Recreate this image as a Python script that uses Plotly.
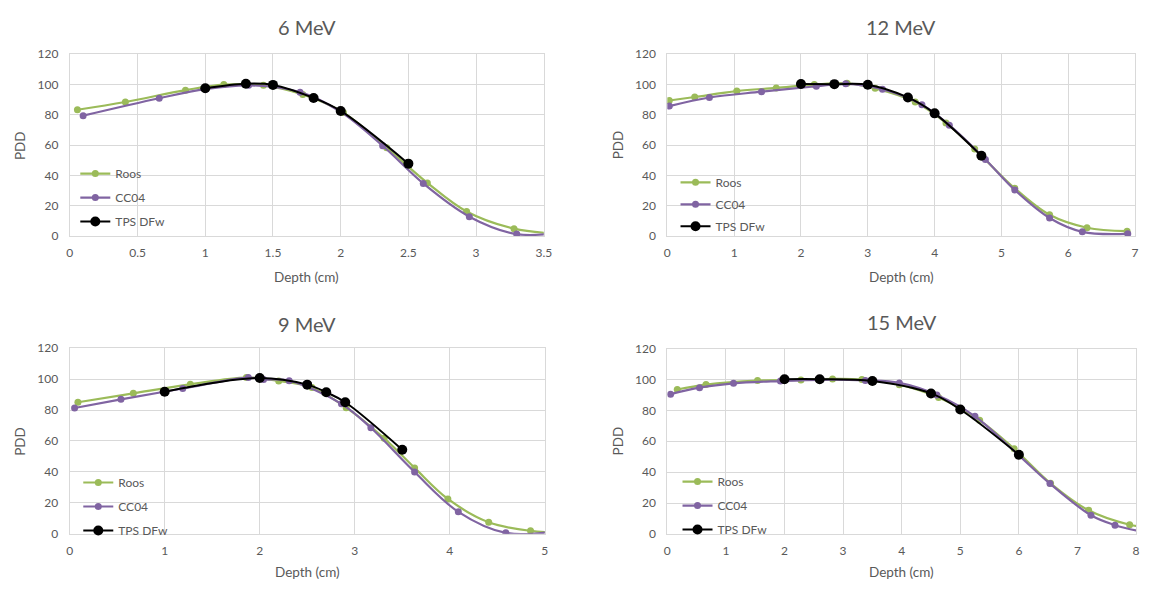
import plotly.graph_objects as go

W, H = 1154, 590

# ---------------- data ----------------
titles = ["6 MeV", "12 MeV", "9 MeV", "15 MeV"]
series_names = ["Roos", "CC04", "TPS DFw"]

roos6_x = [0.056, 0.41, 0.854, 1.137, 1.43, 1.72, 2.02, 2.34, 2.64, 2.93, 3.28, 3.62]
roos6_y = [83.4, 88.5, 96.3, 100.0, 99.5, 93.5, 81.5, 58.3, 35.1, 16.2, 4.9, 1.5]
cc04_6_x = [0.098, 0.66, 1.0, 1.32, 1.70, 2.0, 2.31, 2.61, 2.95, 3.30, 3.65]
cc04_6_y = [79.5, 91.0, 97.0, 99.5, 95.0, 82.0, 59.6, 34.7, 12.8, 1.3, 2.5]
tps6_x = [1.0, 1.3, 1.5, 1.8, 2.0, 2.5]
tps6_y = [97.6, 100.6, 99.8, 91.2, 82.6, 47.8]

roos12_x = [0.03, 0.41, 1.04, 1.63, 2.2, 2.69, 3.11, 3.71, 4.17, 4.6, 5.2, 5.72, 6.28, 6.88]
roos12_y = [89.5, 91.8, 95.7, 97.8, 100.0, 100.8, 97.5, 88.5, 74.7, 57.4, 31.5, 14.0, 5.5, 3.2]
cc04_12_x = [0.03, 0.63, 1.41, 2.23, 2.67, 3.22, 3.81, 4.22, 4.76, 5.2, 5.72, 6.21, 6.89]
cc04_12_y = [85.8, 91.5, 95.3, 98.9, 100.5, 96.9, 86.7, 73.2, 50.6, 30.4, 11.9, 2.8, 1.5]
tps12_x = [2.0, 2.5, 3.0, 3.6, 4.0, 4.7]
tps12_y = [100.4, 100.3, 99.9, 91.5, 81.0, 53.0]

roos9_x = [0.087, 0.67, 1.27, 1.86, 2.2, 2.55, 2.91, 3.31, 3.63, 3.98, 4.41, 4.85, 5.25]
roos9_y = [85.0, 90.8, 96.6, 101.0, 98.8, 94.5, 81.5, 61.7, 42.6, 22.5, 7.4, 1.9, 0.8]
cc04_9_x = [0.052, 0.54, 1.19, 1.88, 2.04, 2.31, 2.86, 3.17, 3.63, 4.09, 4.59, 5.15]
cc04_9_y = [81.3, 86.9, 93.9, 101.0, 99.8, 98.9, 84.0, 68.5, 39.9, 14.2, 0.6, 2.0]
tps9_x = [1.0, 2.0, 2.5, 2.7, 2.9, 3.5]
tps9_y = [91.8, 100.7, 96.4, 91.5, 85.0, 54.3]

roos15_x = [0.17, 0.66, 1.54, 2.28, 2.82, 3.32, 3.96, 4.63, 5.33, 5.92, 6.54, 7.19, 7.89, 8.5]
roos15_y = [93.5, 96.7, 99.3, 99.7, 100.4, 100.0, 96.6, 88.3, 73.6, 55.1, 32.8, 15.3, 6.0, 3.0]
cc04_15_x = [0.056, 0.55, 1.13, 1.93, 2.62, 3.38, 3.96, 4.6, 5.25, 6.0, 6.53, 7.23, 7.64, 8.1]
cc04_15_y = [90.5, 94.7, 97.5, 99.0, 99.8, 99.4, 97.8, 90.0, 76.2, 50.9, 32.6, 12.1, 5.7, 1.5]
tps15_x = [2.0, 2.6, 3.5, 4.5, 5.0, 6.0]
tps15_y = [100.2, 100.2, 99.0, 91.0, 80.6, 51.3]

x_max = [3.5, 7, 5, 8]
x_dtick = [0.5, 1, 1, 1]
y_ticks = [0, 20, 40, 60, 80, 100, 120]

panels = [
    [(roos6_x, roos6_y), (cc04_6_x, cc04_6_y), (tps6_x, tps6_y)],
    [(roos12_x, roos12_y), (cc04_12_x, cc04_12_y), (tps12_x, tps12_y)],
    [(roos9_x, roos9_y), (cc04_9_x, cc04_9_y), (tps9_x, tps9_y)],
    [(roos15_x, roos15_y), (cc04_15_x, cc04_15_y), (tps15_x, tps15_y)],
]

# ---------------- styling ----------------
FONT = "Lato, 'Open Sans', sans-serif"
TXT = "#595959"
GRID = "#D9D9D9"
colors = ["#9BBB59", "#8064A2", "#000000"]
msizes = [7, 7, 10]
lwidths = [2.2, 2.2, 2.0]

# plot areas in pixels: (left, right, top, bottom)
areas = [
    (67.5, 546.0, 47.5, 234.0),
    (670.7, 1143.0, 47.5, 234.0),
    (67.3, 547.0, 349.0, 539.5),
    (670.7, 1144.0, 349.5, 539.7),
]
title_y = [20, 20, 324, 322]
xtitle_y = [276, 276, 579, 579]
ytitle_x = [17, 621, 17, 621]
legend_pos = [(73, 155), (679, 164), (76, 472), (681, 471)]
legend_gap = [5, 3, 5, 5]

def px_x(p):
    return p / W

def px_y(p):
    return 1 - p / H

fig = go.Figure()
layout = dict(
    width=W, height=H, margin=dict(l=0, r=0, t=0, b=0),
    paper_bgcolor="white", plot_bgcolor="white",
    font=dict(family=FONT, color=TXT, size=12),
    showlegend=True,
)
annotations = []

for i, (data, xm) in enumerate(zip(panels, x_max)):
    k = "" if i == 0 else str(i + 1)
    xa, ya = "x" + k, "y" + k
    leg = "legend" if i == 0 else "legend" + str(i + 1)
    for j, ((xs, ys), name) in enumerate(zip(data, series_names)):
        fig.add_trace(go.Scatter(
            x=xs, y=ys, name=name, mode="lines+markers",
            xaxis=xa, yaxis=ya, legend=leg, legendgroup=f"g{i}{j}",
            line=dict(color=colors[j], width=lwidths[j], shape="spline", smoothing=1.0),
            marker=dict(color=colors[j], size=msizes[j]),
            cliponaxis=True,
        ))
    l, r, t, b = areas[i]
    layout["xaxis" + k] = dict(
        domain=[px_x(l), px_x(r)], range=[0, xm], dtick=x_dtick[i], tick0=0,
        anchor=ya, showgrid=True, gridcolor=GRID, gridwidth=1,
        showline=True, linecolor=GRID, linewidth=1, mirror=True,
        zeroline=False, ticks="outside", ticklen=6, tickcolor="rgba(0,0,0,0)",
        tickfont=dict(family=FONT, size=12, color=TXT), fixedrange=True,
    )
    layout["yaxis" + k] = dict(
        domain=[px_y(b), px_y(t)], range=[0, 120], tickvals=y_ticks,
        anchor=xa, showgrid=True, gridcolor=GRID, gridwidth=1,
        showline=True, linecolor=GRID, linewidth=1, mirror=True,
        zeroline=False, ticks="outside", ticklen=8, tickcolor="rgba(0,0,0,0)",
        tickfont=dict(family=FONT, size=12, color=TXT), fixedrange=True,
    )
    lx, ly = legend_pos[i]
    layout[leg] = dict(
        x=px_x(lx), y=px_y(ly), xanchor="left", yanchor="top",
        bgcolor="rgba(0,0,0,0)", borderwidth=0, tracegroupgap=legend_gap[i],
        itemwidth=30, font=dict(family=FONT, size=12, color=TXT),
    )
    cx = (l + r) / 2
    annotations.append(dict(
        text=titles[i], x=px_x(cx), y=px_y(title_y[i]), xref="paper", yref="paper",
        xanchor="center", yanchor="middle", showarrow=False,
        font=dict(family=FONT, size=20, color=TXT),
    ))
    annotations.append(dict(
        text="Depth (cm)", x=px_x(cx), y=px_y(xtitle_y[i]), xref="paper", yref="paper",
        xanchor="center", yanchor="middle", showarrow=False,
        font=dict(family=FONT, size=13.5, color=TXT),
    ))
    annotations.append(dict(
        text="PDD", x=px_x(ytitle_x[i]), y=px_y((t + b) / 2), xref="paper", yref="paper",
        xanchor="center", yanchor="middle", showarrow=False, textangle=-90,
        font=dict(family=FONT, size=13.5, color=TXT),
    ))

layout["annotations"] = annotations
fig.update_layout(**layout)
fig.write_html("out.html")
